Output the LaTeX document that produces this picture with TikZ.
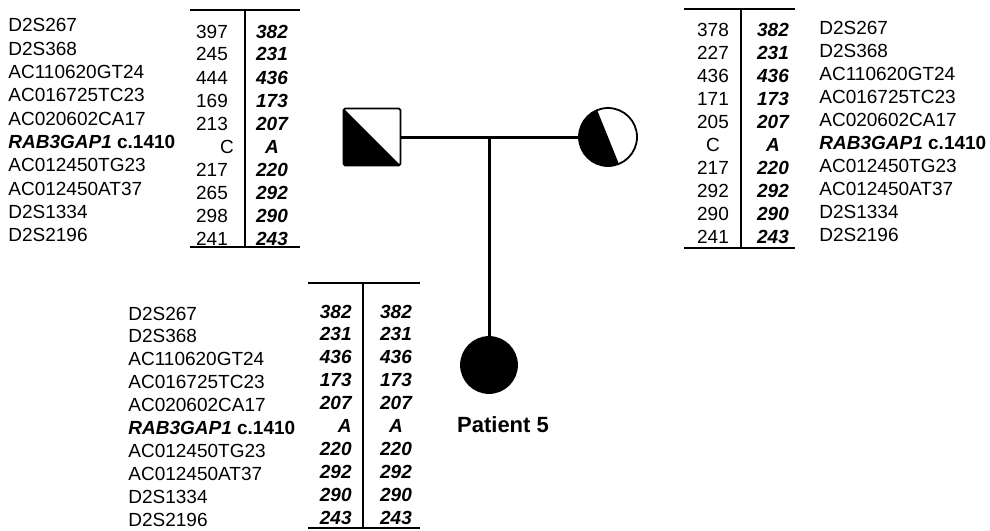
\documentclass[tikz,border=0pt]{standalone}
\usepackage{fontspec}
\setmainfont{Liberation Sans}
\usetikzlibrary{positioning}

\newcommand{\markerlist}{D2S267, D2S368, AC110620GT24, AC016725TC23, AC020602CA17, {\textbf{\textit{RAB3GAP1} c.1410}}, AC012450TG23, AC012450AT37, D2S1334, D2S2196}

\begin{document}
\begin{tikzpicture}[x=0.5pt, y=-0.5pt, font=\fontsize{9.5}{11}\selectfont,
  marker/.style={inner sep=0pt, anchor=base west},
  allele/.style={inner sep=0pt, anchor=base},
  risk/.style={allele, font=\fontsize{9.5}{11}\selectfont\bfseries\itshape},
  rule/.style={line width=0.6pt},
  individual/.style={draw, line width=0.9pt, inner sep=0pt},
  couple/.style={line width=1.5pt}]
  \useasboundingbox (0,0) rectangle (990,530);

  \foreach \m [count=\k from 0] in \markerlist
    \node[marker] (fm\k) at (8, 32+23.3*\k) {\m};
  \foreach \a/\b/\d [count=\k from 0] in {397/382/0, 245/231/0, 444/436/0, 169/173/0, 213/207/0, C/A/15, 217/220/0, 265/292/0, 298/290/0, 241/243/0} {
    \node[allele] (fa\k) at (212+\d, 38+23*\k) {\a};
    \node[risk] (fb\k) at (272, 38+23*\k) {\b};
  }
  \draw[rule] (190,10) -- (300,10);
  \draw[rule] (245,10) -- (245,247);
  \draw[rule] (190,247) -- (300,247);

  \foreach \a/\b [count=\k from 0] in {378/382, 227/231, 436/436, 171/173, 205/207, C/A, 217/220, 292/292, 290/290, 241/243} {
    \node[allele] (ma\k) at (713, 36+23.1*\k) {\a};
    \node[risk] (mb\k) at (773, 36+23.1*\k) {\b};
  }
  \foreach \m [count=\k from 0] in \markerlist
    \node[marker] (mm\k) at (819, 34+23.1*\k) {\m};
  \draw[rule] (684,9) -- (795,9);
  \draw[rule] (741,9) -- (741,248);
  \draw[rule] (684,248) -- (795,248);

  \foreach \m [count=\k from 0] in \markerlist
    \node[marker] (cm\k) at (128, 320+22.9*\k) {\m};
  \foreach \a [count=\k from 0] in {382, 231, 436, 173, 207, A, 220, 292, 290, 243} {
    \node[risk, anchor=base east] (ca\k) at (352, 318+22.9*\k) {\a};
    \node[risk] (cb\k) at (396, 318+22.9*\k) {\a};
  }
  \draw[rule] (308,283) -- (420,283);
  \draw[rule] (363,283) -- (363,528);
  \draw[rule] (308,528) -- (420,528);

  \node[individual, rectangle, rounded corners=0.8pt, minimum size=28.5pt,
    path picture={\fill (path picture bounding box.north west) -- (path picture bounding box.south west) -- (path picture bounding box.south east) -- cycle;}] (father) at (372,137) {};
  \node[individual, circle, minimum size=29pt, outer sep=0pt] (mother) at (608,137) {};
  \fill (mother.112) \foreach \t in {120,130,...,290} { -- (mother.\t) } -- (mother.292) -- cycle;
  \node[individual, circle, fill, minimum size=28pt] (child) at (489,365) {};
  \coordinate (sib) at (father -| child);

  \draw[couple] (father) -- (mother);
  \draw[couple] (sib) -- (child);

  \node[anchor=base, font=\fontsize{11}{13}\selectfont\bfseries] (patient) at (503,432) {Patient 5};
\end{tikzpicture}
\end{document}
